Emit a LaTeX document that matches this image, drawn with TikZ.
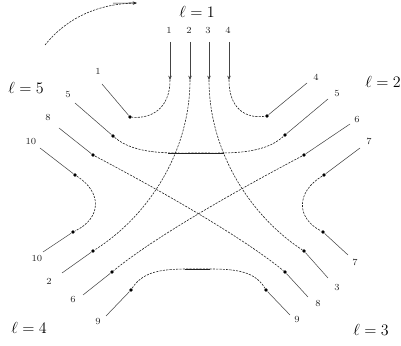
\documentclass[tikz,border=0pt]{standalone}
\usepackage{amsmath,amssymb}
\usetikzlibrary{arrows.meta}
\definecolor{inkgray}{HTML}{222222}
\definecolor{endgray}{HTML}{444444}

\tikzset{
  strand/.style={inkgray, line width=0.45pt, dash pattern=on 1.6pt off 0.9pt},
  endline/.style={endgray, line width=0.4pt},
  knot/.style={circle, fill=black, inner sep=0pt, minimum size=2.8pt},
  idx/.style={font=\scriptsize, inner sep=1pt, text=inkgray},
  lvl/.style={font=\large, inner sep=1pt},
}

\begin{document}
\begin{tikzpicture}[x=0.75pt, y=-0.75pt, >={Stealth[length=3.2pt, width=2.6pt]}]

\useasboundingbox (0,0) rectangle (401,346);

% Level labels
\node[lvl] (lv1) at (197,12) {$\ell = 1$};
\node[lvl] (lv2) at (383,82) {$\ell = 2$};
\node[lvl] (lv3) at (371,330) {$\ell = 3$};
\node[lvl] (lv4) at (29,328) {$\ell = 4$};
\node[lvl] (lv5) at (26,88) {$\ell = 5$};

% Rotation arrow
\draw[strand, ->] (45,45) .. controls (65,20) and (95,4) .. (137,3);
\draw[inkgray, line width=0.45pt] (113,3.2) -- (134,3);

%% Top corner
\foreach \n/\x in {1/170,2/190,3/209,4/229} {
  \node[idx] (t\n) at (\x-1,30) {\n};
  \coordinate (a\n) at (\x,80);
  \draw[endline, ->] (\x,42) -- (a\n);
}

%% Index labels
% left
\node[idx] (l1) at (98,71) {1};
\node[idx] (l5) at (68,94) {5};
\node[idx] (l8) at (48,117) {8};
\node[idx] (l10) at (31,141) {10};
% right
\node[idx] (r4) at (316,77) {4};
\node[idx] (r5) at (337,93) {5};
\node[idx] (r6) at (357,119) {6};
\node[idx] (r7) at (369,141) {7};
% bottom left
\node[idx] (bl10) at (37,258) {10};
\node[idx] (bl2) at (49,281) {2};
\node[idx] (bl6) at (73,299) {6};
\node[idx] (bl9) at (98,321) {9};
% bottom right
\node[idx] (br7) at (355,262) {7};
\node[idx] (br3) at (337,287) {3};
\node[idx] (br8) at (318,303) {8};
\node[idx] (br9) at (297,319) {9};

%% Knots
\node[knot] (k1) at (130,117) {};
\node[knot] (k4) at (267,116) {};
\node[knot] (k5l) at (113,136) {};
\node[knot] (k5r) at (285,135) {};
\node[knot] (k8l) at (93,155) {};
\node[knot] (k8r) at (285,272) {};
\node[knot] (k6r) at (304,155) {};
\node[knot] (k6l) at (112,272) {};
\node[knot] (k10a) at (75,175) {};
\node[knot] (k10b) at (73,232) {};
\node[knot] (k7a) at (324,175) {};
\node[knot] (k7b) at (323,232) {};
\node[knot] (k2) at (93,251) {};
\node[knot] (k3) at (304,251) {};
\node[knot] (k9l) at (131,290) {};
\node[knot] (k9r) at (266,290) {};

%% Free ends
\coordinate (e1) at (102,84);
\coordinate (e4) at (307,83);
\coordinate (e5l) at (75,103);
\coordinate (e5r) at (328,99);
\coordinate (e8l) at (59,128);
\coordinate (e8r) at (308,297);
\coordinate (e6r) at (350,124);
\coordinate (e6l) at (83,295);
\coordinate (e10a) at (40,148);
\coordinate (e10b) at (43,252);
\coordinate (e7a) at (360,148);
\coordinate (e7b) at (348,255);
\coordinate (e2) at (62,273);
\coordinate (e3) at (328,278);
\coordinate (e9l) at (106,316);
\coordinate (e9r) at (290,315);

\foreach \e/\k in {e1/k1,e4/k4,e5l/k5l,e5r/k5r,e8l/k8l,e8r/k8r,e6r/k6r,e6l/k6l,
  e10a/k10a,e10b/k10b,e7a/k7a,e7b/k7b,e2/k2,e3/k3,e9l/k9l,e9r/k9r}
  \draw[endline] (\e) -- (\k);

%% Strands
% turns next to a corner
\draw[strand] (a1) .. controls (170,108) and (152,119) .. (k1);
\draw[strand] (a4) .. controls (229,108) and (245,119) .. (k4);
\draw[strand] (k10a) .. controls (102,192) and (102,218) .. (k10b);
\draw[strand] (k7a) .. controls (296,192) and (296,218) .. (k7b);
% long strands
\draw[strand] (a2) .. controls (190,150) and (150,215) .. (k2);
\draw[strand] (a3) .. controls (209,150) and (249,215) .. (k3);
\draw[strand] (k8l) .. controls (150,185) and (240,235) .. (k8r);
\draw[strand] (k6r) .. controls (247,185) and (157,235) .. (k6l);
% flat strands
\draw[strand] (k5l) .. controls (135,155) and (170,153) .. (199,153)
  .. controls (228,153) and (263,155) .. (k5r);
\draw[inkgray, line width=0.45pt] (168,153) -- (224,153);
\draw[strand] (k9l) .. controls (145,268) and (170,269) .. (199,269)
  .. controls (228,269) and (253,268) .. (k9r);
\draw[inkgray, line width=0.45pt] (185,269) -- (210,269);

\end{tikzpicture}
\end{document}
